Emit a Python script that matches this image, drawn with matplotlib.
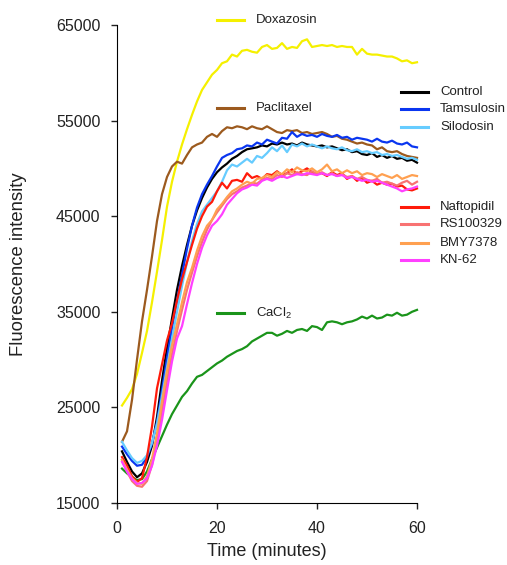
import numpy as np
import matplotlib
matplotlib.use("Agg")
import matplotlib.pyplot as plt

plt.rcParams["font.family"] = ["Liberation Sans", "DejaVu Sans"]
plt.rcParams["mathtext.default"] = "regular"

# time points (minutes)
time = np.arange(1, 61)

doxazosin = [25200, 26000, 26900, 28500, 30700, 33000, 36000, 39200, 42500, 46000,
             48600, 50700, 52500, 54100, 55600, 57000, 58200, 59000, 59800, 60300,
             61000, 61200, 61900, 61700, 62300, 62400, 62200, 62100, 62700, 62900,
             62500, 62600, 63100, 62500, 62700, 62600, 63300, 63500, 62700, 62800,
             62900, 62800, 62900, 62700, 62800, 62700, 62700, 61900, 62500, 62000,
             61900, 61900, 61800, 61700, 61700, 61500, 61200, 61300, 61000, 61100]

paclitaxel = [21400, 22500, 25800, 30000, 34000, 37300, 40800, 44500, 47300, 49100,
              50200, 50700, 50500, 51400, 52200, 52500, 52700, 53300, 53600, 53300,
              53900, 54300, 54200, 54400, 54300, 54100, 54400, 54200, 54100, 54400,
              54100, 53800, 53700, 54000, 53900, 54000, 53700, 53800, 53600, 53700,
              53800, 53600, 53300, 53400, 53100, 53000, 52800, 52600, 52700, 52500,
              52400, 52000, 52200, 51800, 51700, 51800, 51500, 51300, 51200, 51100]

control = [20400, 19300, 18300, 17700, 18100, 19300, 21000, 24000, 27800, 31200,
           34300, 37300, 39800, 42000, 44000, 45600, 46900, 48000, 48900, 49600,
           50100, 50500, 51000, 51300, 51700, 52000, 52100, 52200, 52400, 52300,
           52600, 52500, 52700, 52500, 52600, 52400, 52700, 52500, 52400, 52300,
           52400, 52200, 52300, 52100, 51900, 52000, 51700, 51800, 51500, 51400,
           51600, 51200, 51400, 51100, 51300, 51000, 51100, 50800, 50900, 50600]

tamsulosin = [20900, 20100, 19400, 18900, 19000, 19800, 21200, 23500, 26800, 30200,
              33300, 36200, 38900, 41600, 44000, 45900, 47300, 48300, 49200, 50200,
              51100, 51400, 51600, 52000, 52100, 52400, 52300, 52700, 52500, 53000,
              52800, 52600, 53200, 53100, 53800, 53300, 53600, 53400, 53500, 53300,
              53600, 53400, 53300, 53500, 53200, 53300, 53000, 53200, 53100, 53000,
              52800, 53100, 52800, 52700, 52900, 52600, 52500, 52700, 52300, 52200]

silodosin = [21400, 20500, 19700, 19200, 19400, 20000, 21300, 23300, 26200, 29200,
             32200, 35000, 37700, 40200, 42400, 44200, 45500, 46200, 46900, 47600,
             48600, 49800, 50400, 50200, 50600, 51000, 50600, 51300, 51100, 51600,
             52200, 51800, 52400, 51700, 52500, 52300, 52600, 52300, 52500, 52300,
             52100, 52300, 52100, 52000, 52200, 51900, 51800, 52000, 51700, 51800,
             51600, 51700, 51400, 51500, 51300, 51400, 51200, 51000, 51100, 50900]

naftopidil = [19800, 18900, 17800, 17200, 17600, 19800, 23000, 27000, 29500, 32000,
              33800, 36200, 38400, 40200, 42000, 43700, 45000, 46000, 46500, 47600,
              48500, 47900, 48700, 48800, 48600, 49500, 49000, 49200, 48900, 49400,
              49300, 49700, 49300, 49500, 49900, 49400, 49700, 50000, 49600, 49400,
              49500, 49200, 49600, 49300, 49500, 48900, 49200, 48700, 49000, 48500,
              48700, 48300, 48500, 48300, 48400, 48100, 48200, 47800, 47700, 47900]

rs100329 = [19500, 18300, 17300, 16800, 16700, 17300, 19000, 21500, 24600, 27800,
            30600, 33000, 35200, 37300, 39100, 40800, 42300, 43600, 44600, 45400,
            46100, 46800, 47300, 47600, 48000, 48200, 48500, 48400, 48800, 49000,
            48900, 49300, 49100, 49500, 49300, 49600, 49400, 49300, 49700, 49400,
            49600, 49300, 49500, 49200, 49400, 49100, 49200, 48900, 49100, 48800,
            48700, 48900, 48500, 48600, 48400, 48200, 48500, 48700, 48300, 48600]

bmy7378 = [19500, 18500, 17600, 17100, 17000, 17800, 19600, 22300, 25600, 28800,
           31500, 33700, 36000, 38100, 39600, 41400, 42900, 44000, 44600, 45700,
           46300, 47000, 47600, 47900, 48300, 48600, 48400, 48900, 49000, 49300,
           49100, 49600, 49400, 49900, 49600, 50100, 49800, 49700, 50000, 49600,
           49900, 50400, 49700, 49900, 49500, 49800, 49500, 49700, 49300, 49500,
           49400, 49100, 49400, 49200, 49000, 49300, 48900, 49100, 49300, 49200]

kn62 = [19300, 18300, 17500, 17000, 17100, 17600, 18900, 21000, 23700, 26800,
        29800, 32200, 33500, 35800, 38000, 40000, 41700, 43000, 44000, 44500,
        45200, 46200, 46800, 47400, 47800, 48000, 48300, 48200, 48700, 48900,
        48700, 49000, 49200, 49000, 49200, 49400, 49300, 49500, 49400, 49300,
        49500, 49300, 49400, 49200, 49300, 49000, 49100, 48900, 48700, 48800,
        48600, 48700, 48500, 48300, 48100, 47900, 47600, 47800, 47900, 48100]

cacl2 = [18600, 18100, 17700, 17400, 17500, 18300, 19600, 20800, 22000, 23200,
         24300, 25200, 26100, 26700, 27500, 28200, 28400, 28800, 29200, 29600,
         29900, 30300, 30600, 30900, 31100, 31400, 31900, 32200, 32500, 32800,
         32800, 32500, 32700, 33000, 32800, 33100, 33200, 33000, 33500, 33400,
         33100, 33900, 34000, 33900, 33700, 33900, 34000, 34200, 34500, 34300,
         34600, 34300, 34400, 34700, 34600, 34900, 34600, 34700, 35000, 35200]

series = [
    ("Doxazosin", doxazosin, "#f5f000"),
    ("Paclitaxel", paclitaxel, "#9c5a1e"),
    ("CaCl$_2$", cacl2, "#1a941a"),
    ("Control", control, "#000000"),
    ("Tamsulosin", tamsulosin, "#0a36f0"),
    ("Silodosin", silodosin, "#66ccff"),
    ("Naftopidil", naftopidil, "#ff1a0a"),
    ("RS100329", rs100329, "#f87272"),
    ("BMY7378", bmy7378, "#ffa050"),
    ("KN-62", kn62, "#ff40ff"),
]

# legend spots in axes fractions: (line start x, text x, y)
legend_pos = {
    "Doxazosin": (0.333, 0.463, 1.010),
    "Paclitaxel": (0.333, 0.463, 0.826),
    "CaCl$_2$": (0.333, 0.463, 0.397),
    "Control": (0.947, 1.077, 0.860),
    "Tamsulosin": (0.947, 1.077, 0.824),
    "Silodosin": (0.947, 1.077, 0.787),
    "Naftopidil": (0.947, 1.077, 0.619),
    "RS100329": (0.947, 1.077, 0.584),
    "BMY7378": (0.947, 1.077, 0.544),
    "KN-62": (0.947, 1.077, 0.508),
}

fig = plt.figure(figsize=(5.07, 5.65), dpi=100)
ax = fig.add_axes([0.2308, 0.1097, 0.5917, 0.8461])

for name, vals, col in series:
    ax.plot(time, vals, color=col, lw=1.6, clip_on=False)
    x0, xt, y = legend_pos[name]
    ax.plot([x0, x0 + 0.09], [y, y], color=col, lw=2.2,
            transform=ax.transAxes, clip_on=False)
    ax.text(xt, y, name, transform=ax.transAxes, fontsize=9.5,
            va="center", ha="left", color="#222222")

ax.set_xlim(0, 60)
ax.set_ylim(15000, 65000)
ax.set_xticks([0, 20, 40, 60])
ax.set_yticks(range(15000, 65001, 10000))
ax.spines["top"].set_visible(False)
ax.spines["right"].set_visible(False)
ax.tick_params(axis="both", labelsize=11.5, length=4, width=1, colors="#222222")
ax.tick_params(axis="x", pad=9)
ax.tick_params(axis="y", pad=8)

ax.set_xlabel("Time (minutes)", fontsize=13, color="#222222")
ax.set_ylabel("Fluorescence intensity", fontsize=13.3, color="#222222")
ax.xaxis.set_label_coords(0.5, -0.084)
ax.yaxis.set_label_coords(-0.30, 0.5)

fig.savefig("out.png", dpi=100)
